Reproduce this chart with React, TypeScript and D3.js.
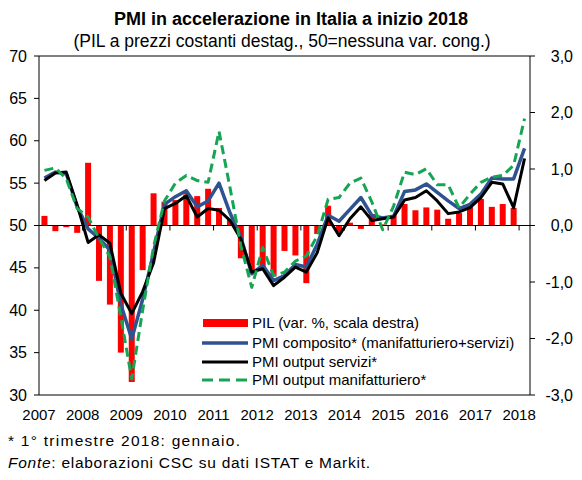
import React from "react";
import * as d3 from "d3";

const quarters = [
  "2007Q1","2007Q2","2007Q3","2007Q4",
  "2008Q1","2008Q2","2008Q3","2008Q4",
  "2009Q1","2009Q2","2009Q3","2009Q4",
  "2010Q1","2010Q2","2010Q3","2010Q4",
  "2011Q1","2011Q2","2011Q3","2011Q4",
  "2012Q1","2012Q2","2012Q3","2012Q4",
  "2013Q1","2013Q2","2013Q3","2013Q4",
  "2014Q1","2014Q2","2014Q3","2014Q4",
  "2015Q1","2015Q2","2015Q3","2015Q4",
  "2016Q1","2016Q2","2016Q3","2016Q4",
  "2017Q1","2017Q2","2017Q3","2017Q4",
  "2018Q1",
];

const yearLabels = ["2007","2008","2009","2010","2011","2012","2013","2014","2015","2016","2017","2018"];
const leftTicks = [30, 35, 40, 45, 50, 55, 60, 65, 70];
const rightTicks = [-3, -2, -1, 0, 1, 2, 3];

// PIL, var. % congiunturale (scala destra)
const pil: (number | null)[] = [
  0.17, -0.1, -0.03, -0.13,
  1.11, -0.98, -1.4, -2.25,
  -2.77, -0.79, 0.57, 0.42,
  0.45, 0.55, 0.52, 0.65,
  0.31, 0.1, -0.58, -0.85,
  -0.75, -0.9, -0.45, -0.53,
  -1.02, -0.15, 0.35, -0.12,
  0.05, -0.06, 0.2, 0.02,
  0.18, 0.38, 0.27, 0.32,
  0.28, 0.12, 0.22, 0.34,
  0.47, 0.33, 0.38, 0.31,
  null,
];

// PMI composito (manifatturiero+servizi)
const pmiComposite = [
  55.6, 56.3, 56.1, 52.2,
  49.6, 48.5, 47.1, 40.7,
  36.6, 41.3, 46.8, 52.5,
  53.4, 54.1, 52.2, 52.9,
  55.0, 51.5, 48.6, 44.3,
  45.3, 43.5, 44.1, 45.4,
  45.1, 47.8, 51.2, 50.5,
  51.9, 53.3, 51.2, 50.9,
  51.1, 54.0, 54.2, 54.9,
  53.9, 52.9, 52.0, 52.5,
  53.7, 55.6, 55.5, 55.5,
  59.1,
];

// PMI output servizi
const pmiServices = [
  55.3, 56.2, 56.3, 52.4,
  48.0, 48.9, 47.9, 42.0,
  39.6, 42.2, 45.6, 52.0,
  52.6, 53.5, 51.0, 52.0,
  51.8, 50.6, 48.4, 44.5,
  44.9, 42.9, 43.9, 45.1,
  44.5, 46.8, 50.9, 48.8,
  50.8, 52.2, 50.6, 50.8,
  51.0, 53.0, 53.3, 54.1,
  52.9, 51.4, 51.6, 52.1,
  53.3, 55.1, 54.9, 52.1,
  57.9,
];

// PMI output manifatturiero
const pmiManufacturing = [
  56.5, 56.8, 55.5, 52.0,
  51.0, 48.5, 46.3, 39.2,
  31.9, 40.0, 47.5, 52.9,
  55.0, 55.9, 55.3, 55.1,
  61.1, 54.5, 47.6, 42.7,
  47.4, 44.1, 44.5, 45.8,
  46.4, 48.8, 53.1, 53.3,
  55.0, 55.6, 52.8, 49.5,
  52.3, 56.3, 56.0, 56.7,
  54.8, 54.8, 52.1, 53.7,
  55.1, 55.7, 55.9, 57.1,
  62.6,
];

const legendLabels = [
  "PIL (var. %, scala destra)",
  "PMI composito* (manifatturiero+servizi)",
  "PMI output servizi*",
  "PMI output manifatturiero*",
];

const FONT = "'Liberation Sans', Arial, Helvetica, sans-serif";
const RED = "#FF0000";
const BLUE = "#2F5290";
const BLACK = "#000000";
const GREEN = "#16A553";

export default function App() {
  const W = 582;
  const H = 480;
  const left = 39;
  const right = 530;
  const top = 56;
  const bottom = 395;

  const x = d3
    .scaleBand<string>()
    .domain(quarters)
    .range([left, right])
    .paddingInner(0.45)
    .paddingOuter(0.225);
  const half = (x.step() - x.bandwidth()) / 2;
  const cx = (q: string) => (x(q) as number) + x.bandwidth() / 2;
  const boundary = (i: number) => (x(quarters[i]) as number) - half;

  const yL = d3.scaleLinear().domain([30, 70]).range([bottom, top]);
  const yR = d3.scaleLinear().domain([-3, 3]).range([bottom, top]);

  const mkLine = (vals: number[]) =>
    d3
      .line<number>()
      .x((_, i) => cx(quarters[i]))
      .y((d) => yL(d))(vals) as string;

  const zeroY = yL(50);

  return (
    <svg
      width={W}
      height={H}
      style={{ position: "absolute", left: 0, top: 0, background: "#fff" }}
      fontFamily={FONT}
    >
      <rect x={0} y={0} width={W} height={H} fill="#fff" />
      {/* Title */}
      <text x={291} y={25} textAnchor="middle" fontSize={18} fontWeight="bold">
        PMI in accelerazione in Italia a inizio 2018
      </text>
      <text x={282} y={47} textAnchor="middle" fontSize={17.5}>
        (PIL a prezzi costanti destag., 50=nessuna var. cong.)
      </text>

      {/* Bars */}
      {pil.map((v, i) =>
        v === null ? null : (
          <rect
            key={"b" + i}
            x={x(quarters[i]) as number}
            width={x.bandwidth()}
            y={Math.min(yR(v), yR(0))}
            height={Math.abs(yR(v) - yR(0))}
            fill={RED}
          />
        )
      )}

      {/* Zero line with year ticks */}
      <line x1={left} x2={right} y1={zeroY} y2={zeroY} stroke="#000" strokeWidth={1} />
      {yearLabels.map((_, k) =>
        k === 0 ? null : (
          <line
            key={"yt" + k}
            x1={boundary(4 * k)}
            x2={boundary(4 * k)}
            y1={zeroY}
            y2={zeroY + 5}
            stroke="#000"
            strokeWidth={1}
          />
        )
      )}

      {/* Lines */}
      <path d={mkLine(pmiComposite)} fill="none" stroke={BLUE} strokeWidth={3.5} strokeLinejoin="round" />
      <path d={mkLine(pmiServices)} fill="none" stroke={BLACK} strokeWidth={3} strokeLinejoin="round" />
      <path
        d={mkLine(pmiManufacturing)}
        fill="none"
        stroke={GREEN}
        strokeWidth={3}
        strokeDasharray="9,5"
        strokeLinejoin="round"
      />

      {/* Frame */}
      <line x1={left} x2={right} y1={top} y2={top} stroke="#000" strokeWidth={1} />
      <line x1={left} x2={right} y1={bottom} y2={bottom} stroke="#000" strokeWidth={1} />
      <line x1={left} x2={left} y1={top} y2={bottom} stroke="#000" strokeWidth={1} />
      <line x1={right} x2={right} y1={top} y2={bottom} stroke="#000" strokeWidth={1} />

      {/* Left axis */}
      {leftTicks.map((t) => (
        <g key={"l" + t}>
          <line x1={left - 5} x2={left} y1={yL(t)} y2={yL(t)} stroke="#000" />
          <text x={27} y={yL(t) + 5.5} textAnchor="end" fontSize={16}>
            {t}
          </text>
        </g>
      ))}

      {/* Right axis */}
      {rightTicks.map((t) => (
        <g key={"r" + t}>
          <line x1={right} x2={right + 5} y1={yR(t)} y2={yR(t)} stroke="#000" />
          <text x={573} y={yR(t) + 5.5} textAnchor="end" fontSize={16}>
            {d3.format(".1f")(t).replace(".", ",").replace("−", "-")}
          </text>
        </g>
      ))}

      {/* X labels */}
      {yearLabels.map((lab, k) => (
        <text key={"x" + lab} x={boundary(4 * k)} y={420} textAnchor="middle" fontSize={15}>
          {lab}
        </text>
      ))}

      {/* Legend */}
      <rect x={203} y={319} width={45} height={8} fill={RED} />
      <line x1={202} x2={248} y1={343} y2={343} stroke={BLUE} strokeWidth={3.5} />
      <line x1={202} x2={248} y1={362} y2={362} stroke={BLACK} strokeWidth={3} />
      <line x1={202} x2={248} y1={380} y2={380} stroke={GREEN} strokeWidth={3} strokeDasharray="11,6" />
      {legendLabels.map((lab, i) => (
        <text key={"lg" + i} x={252} y={[328, 348, 367, 385][i]} fontSize={15}>
          {lab}
        </text>
      ))}

      {/* Footnotes */}
      <text x={8} y={446} fontSize={15.5} textLength={232} lengthAdjust="spacing">
        * 1° trimestre 2018: gennaio.
      </text>
      <text x={8} y={468} fontSize={15.5} textLength={362} lengthAdjust="spacing">
        <tspan fontStyle="italic">Fonte</tspan>: elaborazioni CSC su dati ISTAT e Markit.
      </text>
    </svg>
  );
}
